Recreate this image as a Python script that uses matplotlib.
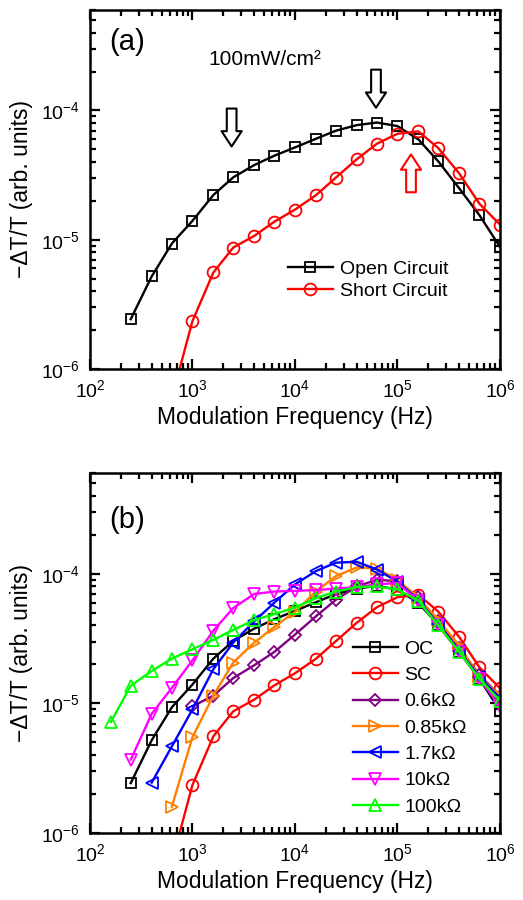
import matplotlib
matplotlib.use("Agg")
import matplotlib.pyplot as plt
from matplotlib.ticker import NullFormatter

plt.rcParams['font.family'] = ['Liberation Sans', 'DejaVu Sans']

# modulation frequencies (Hz), 0.2 decade steps
freqs = [160, 250, 400, 630, 1000, 1600, 2500, 4000, 6300, 1e4, 1.6e4, 2.5e4,
         4e4, 6.3e4, 1e5, 1.6e5, 2.5e5, 4e5, 6.3e5, 1e6]

# -dT/T values, each series ends at 1 MHz
oc = [2.43e-6, 5.2e-6, 9.35e-6, 1.4e-5, 2.22e-5, 3.04e-5, 3.78e-5, 4.47e-5, 5.18e-5,
      6.04e-5, 6.97e-5, 7.7e-5, 8.07e-5, 7.57e-5, 5.97e-5, 4.04e-5, 2.5e-5, 1.55e-5, 8.8e-6]
sc = [6e-7, 2.35e-6, 5.58e-6, 8.7e-6, 1.07e-5, 1.38e-5, 1.71e-5, 2.21e-5, 3.02e-5,
      4.19e-5, 5.53e-5, 6.61e-5, 6.89e-5, 5.12e-5, 3.26e-5, 1.9e-5, 1.31e-5]
r06 = [9.5e-6, 1.15e-5, 1.57e-5, 1.97e-5, 2.5e-5, 3.4e-5, 4.7e-5, 6.3e-5, 8.0e-5,
       9.0e-5, 8.8e-5, 6.6e-5, 4.3e-5, 2.7e-5, 1.65e-5, 1.15e-5]
r085 = [1.6e-6, 5.5e-6, 1.15e-5, 2.07e-5, 2.95e-5, 3.9e-5, 5.1e-5, 7.3e-5, 9.6e-5,
        1.12e-4, 1.1e-4, 9.0e-5, 6.5e-5, 4.4e-5, 2.8e-5, 1.6e-5, 1.15e-5]
r17 = [2.45e-6, 4.67e-6, 9.0e-6, 1.84e-5, 2.95e-5, 4.3e-5, 6.0e-5, 8.3e-5, 1.05e-4,
       1.22e-4, 1.24e-4, 1.08e-4, 8.7e-5, 6.3e-5, 4.1e-5, 2.55e-5, 1.6e-5, 1.1e-5]
r10 = [3.68e-6, 8.3e-6, 1.32e-5, 2.15e-5, 3.65e-5, 5.45e-5, 7.0e-5, 7.3e-5, 7.4e-5,
       7.5e-5, 7.7e-5, 7.9e-5, 8.3e-5, 8.5e-5, 6.2e-5, 4.0e-5, 2.5e-5, 1.55e-5, 9.5e-6]
r100 = [7.2e-6, 1.37e-5, 1.78e-5, 2.22e-5, 2.62e-5, 3.1e-5, 3.7e-5, 4.4e-5, 4.9e-5,
        5.5e-5, 6.5e-5, 7.3e-5, 7.9e-5, 8.0e-5, 7.6e-5, 6.2e-5, 4.0e-5, 2.5e-5, 1.55e-5, 1.05e-5]

# arrows in panel (a): (frequency, tail value, tip value, colour)
arrows = [(2410, 1.035e-4, 5.27e-5, 'black'),
          (61700, 2.07e-4, 1.05e-4, 'black'),
          (1.355e5, 2.33e-5, 4.57e-5, 'red')]


def f_for(vals):
    return freqs[-len(vals):]


def style_axes(ax):
    ax.set_xscale('log')
    ax.set_yscale('log')
    ax.set_xlim(1e2, 1e6)
    ax.set_ylim(1e-6, 6e-4)
    ax.tick_params(which='both', direction='in', top=True, right=True, width=1.6, labelsize=14)
    ax.tick_params(which='major', length=7, pad=7)
    ax.tick_params(which='minor', length=4)
    ax.xaxis.set_minor_formatter(NullFormatter())
    ax.yaxis.set_minor_formatter(NullFormatter())
    for s in ax.spines.values():
        s.set_linewidth(1.8)
    ax.set_xlabel('Modulation Frequency (Hz)', fontsize=16.5, labelpad=4)
    ax.set_ylabel('\u2212\u0394T/T (arb. units)', fontsize=16.5, labelpad=6)


fig = plt.figure(figsize=(5.23, 9), dpi=100)
ax1 = fig.add_axes([0.172, 0.59, 0.784, 0.399])
ax2 = fig.add_axes([0.172, 0.0744, 0.784, 0.40])

kw = dict(lw=1.7, mfc='none', mew=1.3)

# panel (a)
ax1.plot(f_for(oc), oc, '-s', color='black', ms=7.5, label='Open Circuit', **kw)
ax1.plot(f_for(sc), sc, '-o', color='red', ms=8.5, label='Short Circuit', **kw)
style_axes(ax1)
ax1.legend(loc='center left', bbox_to_anchor=(0.483, 0.248), frameon=False, fontsize=14,
           handlelength=2.3, handletextpad=0.35, labelspacing=0.25, borderpad=0,
           borderaxespad=0, numpoints=1)
ax1.text(0.09, 0.911, '(a)', transform=ax1.transAxes, fontsize=21, ha='center', va='center')
ax1.text(0.427, 0.861, '100mW/cm\u00b2', transform=ax1.transAxes, fontsize=15, ha='center', va='center')
for x, y0, y1, c in arrows:
    ax1.annotate('', xy=(x, y1), xytext=(x, y0),
                 arrowprops=dict(arrowstyle='simple,head_length=1.1,head_width=1.45,tail_width=0.7',
                                 fc='white', ec=c, lw=1.5, shrinkA=0, shrinkB=0, mutation_scale=10))

# panel (b)
series = [(oc, 's', 'black', 7.5, 'OC'),
          (sc, 'o', 'red', 8.5, 'SC'),
          (r06, 'D', '#800080', 6.5, '0.6k\u03a9'),
          (r085, '>', '#FF8000', 8.5, '0.85k\u03a9'),
          (r17, '<', '#0000FF', 8.5, '1.7k\u03a9'),
          (r10, 'v', '#FF00FF', 8.5, '10k\u03a9'),
          (r100, '^', '#00FF00', 8.5, '100k\u03a9')]
for vals, m, c, ms, lab in series:
    ax2.plot(f_for(vals), vals, '-' + m, color=c, ms=ms, label=lab, **kw)
style_axes(ax2)
ax2.legend(loc='center left', bbox_to_anchor=(0.641, 0.292), frameon=False, fontsize=14,
           handlelength=2.3, handletextpad=0.35, labelspacing=0.45, borderpad=0,
           borderaxespad=0, numpoints=1)
ax2.text(0.09, 0.869, '(b)', transform=ax2.transAxes, fontsize=21, ha='center', va='center')

fig.savefig('out.png', dpi=100)
